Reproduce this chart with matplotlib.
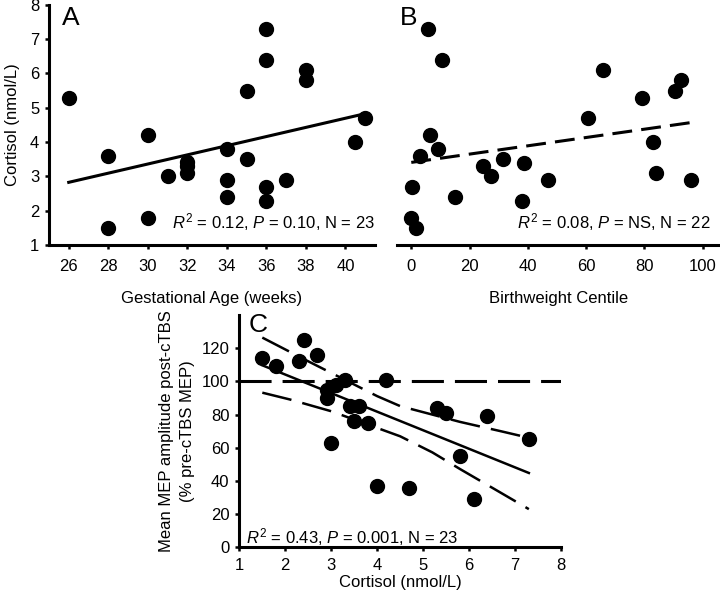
import numpy as np
import matplotlib
matplotlib.use("Agg")
from matplotlib import pyplot as plt

plt.rcParams['font.family'] = ['Liberation Sans', 'DejaVu Sans']
plt.rcParams['mathtext.fontset'] = 'custom'
plt.rcParams['mathtext.rm'] = 'Liberation Sans'
plt.rcParams['mathtext.it'] = 'Liberation Sans:italic'

## dados

# painel A: idade gestacional x cortisol
idade_gest = [26, 28, 28, 30, 30, 31, 32, 32, 32, 34, 34, 34, 35, 35, 36, 36, 36, 36, 37, 38, 38, 40.5, 41]
cortisol_a = [5.3, 3.6, 1.5, 4.2, 1.8, 3.0, 3.42, 3.3, 3.1, 3.8, 2.9, 2.4, 5.5, 3.5, 7.3, 6.4, 2.7, 2.3, 2.9, 6.1, 5.8, 4.0, 4.7]
ajuste_a_x = [26, 41]
ajuste_a_y = [2.83, 4.83]

# painel B: centil de peso x cortisol
centil = [5.7, 10.5, 65.7, 92.7, 90.6, 79.2, 60.7, 6.3, 9.3, 3.0, 82.9, 31.4, 38.7, 24.7, 27.4, 84, 47, 96, 0.2, 15, 38, 0, 1.7]
cortisol_b = [7.3, 6.4, 6.1, 5.8, 5.5, 5.3, 4.7, 4.2, 3.8, 3.6, 4.0, 3.5, 3.4, 3.3, 3.0, 3.1, 2.9, 2.9, 2.7, 2.4, 2.3, 1.8, 1.5]
ajuste_b_x = [0, 96]
ajuste_b_y = [3.41, 4.57]

# painel C: cortisol x MEP
cortisol_c = [1.5, 1.8, 2.3, 2.4, 2.7, 2.9, 2.9, 3.1, 3.3, 3.0, 3.4, 3.6, 3.5, 3.8, 4.2, 4.0, 4.7, 5.3, 5.5, 5.8, 6.4, 6.1, 7.3]
mep = [114, 109, 112, 125, 116, 95, 90, 98, 101, 63, 85, 85, 76, 75, 101, 37, 36, 84, 81, 55, 79, 29, 65]
ajuste_c_x = [1.5, 7.3]
ajuste_c_y = [109.7, 44.8]
ic_sup_x = [1.5, 2.5, 4.0, 4.5, 5.8, 6.7, 7.3]
ic_sup_y = [126.4, 112.1, 91.1, 85.1, 75.6, 69.9, 66.0]
ic_inf_x = [1.5, 2.1, 3.0, 4.5, 5.2, 5.8, 6.7, 7.3]
ic_inf_y = [93.2, 89.1, 82.0, 66.9, 57.2, 47.2, 32.7, 23.0]
referencia = 100

fs = 12
lw_eixo = 2.2

fig = plt.figure(figsize=(7.2, 5.98), dpi=100)
ax_a = fig.add_axes([0.068, 0.590, 0.453, 0.402])
ax_b = fig.add_axes([0.551, 0.590, 0.449, 0.402])
ax_c = fig.add_axes([0.3324, 0.0848, 0.4468, 0.3884])

for ax in [ax_a, ax_b, ax_c]:
    for lado in ['top', 'right']:
        ax.spines[lado].set_visible(False)
    ax.spines['left'].set_linewidth(lw_eixo)
    ax.spines['bottom'].set_linewidth(lw_eixo)
    ax.tick_params(direction='out', length=3, width=1.8, labelsize=fs, pad=7)

## A
ax_a.plot(idade_gest, cortisol_a, 'o', color='black', ms=10, clip_on=False)
ax_a.plot(ajuste_a_x, ajuste_a_y, color='black', lw=2.2)
ax_a.set_xlim(25, 41.5)
ax_a.set_ylim(1, 8)
ax_a.set_xticks(range(26, 41, 2))
ax_a.set_yticks(range(1, 9))
ax_a.tick_params(axis='y', pad=4)
ax_a.set_xlabel("Gestational Age (weeks)", fontsize=fs, labelpad=12)
ax_a.set_ylabel("Cortisol (nmol/L)", fontsize=fs, labelpad=7)
ax_a.text(0.04, 0.995, "A", transform=ax_a.transAxes, fontsize=19, va='top', ha='left')
ax_a.text(1.0, 0.095, r"$\it{R}^2$ = 0.12, $\it{P}$ = 0.10, N = 23", transform=ax_a.transAxes,
          fontsize=fs, ha='right', va='center')

## B
ax_b.plot(centil, cortisol_b, 'o', color='black', ms=10, clip_on=False)
ax_b.plot(ajuste_b_x, ajuste_b_y, color='black', lw=2.2, dashes=(6.5, 3))
ax_b.set_xlim(-5, 106)
ax_b.set_ylim(1, 8)
ax_b.set_xticks(range(0, 101, 20))
ax_b.spines['left'].set_visible(False)
ax_b.set_yticks([])
ax_b.set_xlabel("Birthweight Centile", fontsize=fs, labelpad=12)
ax_b.text(0.01, 0.995, "B", transform=ax_b.transAxes, fontsize=19, va='top', ha='left')
ax_b.text(0.97, 0.095, r"$\it{R}^2$ = 0.08, $\it{P}$ = NS, N = 22", transform=ax_b.transAxes,
          fontsize=fs, ha='right', va='center')

## C
ax_c.axhline(referencia, color='black', lw=2.2, dashes=(10.5, 3.6))
ax_c.plot(cortisol_c, mep, 'o', color='black', ms=10, clip_on=False)
ax_c.plot(ajuste_c_x, ajuste_c_y, color='black', lw=1.8)
ax_c.plot(ic_sup_x, ic_sup_y, color='black', lw=1.8, dashes=(12, 4.5))
ax_c.plot(ic_inf_x, ic_inf_y, color='black', lw=1.8, dashes=(12, 4.5))
ax_c.set_xlim(1, 8)
ax_c.set_ylim(0, 140)
ax_c.set_xticks(range(1, 9))
ax_c.set_yticks(range(0, 121, 20))
ax_c.tick_params(axis='y', pad=4)
ax_c.tick_params(axis='x', pad=5)
ax_c.set_xlabel("Cortisol (nmol/L)", fontsize=fs, labelpad=1)
ax_c.set_ylabel("Mean MEP amplitude post-cTBS\n(% pre-cTBS MEP)", fontsize=fs, labelpad=5,
                linespacing=1.45)
ax_c.text(0.03, 1.01, "C", transform=ax_c.transAxes, fontsize=19, va='top', ha='left')
ax_c.text(0.02, 0.045, r"$\it{R}^2$ = 0.43, $\it{P}$ = 0.001, N = 23", transform=ax_c.transAxes,
          fontsize=fs, ha='left', va='center')

fig.savefig("out.png", dpi=100)
